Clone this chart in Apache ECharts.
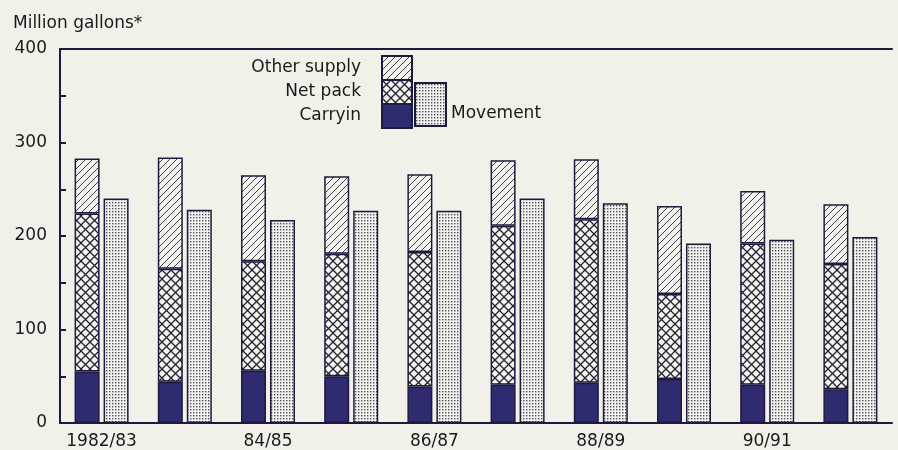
<!DOCTYPE html>
<html>
<head>
<meta charset="utf-8">
<script src="https://cdn.jsdelivr.net/npm/echarts@6/dist/echarts.min.js"></script>
<style>
  html, body { margin: 0; padding: 0; background: #f1f1e9; }
  #chart { width: 898px; height: 450px; }
</style>
</head>
<body>
<div id="chart"></div>
<script>
// data (million gallons)
const years = ['1982/83', '83/84', '84/85', '85/86', '86/87', '87/88', '88/89', '89/90', '90/91', '91/92']
const carryin = [55, 44, 56, 50, 39, 41, 43, 47, 41, 36]
const netPack = [169, 121, 117, 131, 144, 170, 175, 91, 151, 134]
const otherSupply = [59, 119, 92, 83, 83, 70, 64, 94, 56, 64]
const movement = [240, 228, 217, 227, 227, 240, 235, 192, 196, 199]

const ink = '#1c1b3e'
const navy = '#2e2b70'
const paper = '#f4f4ef'

// small canvas tiles used as fill patterns
const makeTile = (size, draw) => {
  const c = document.createElement('canvas')
  c.width = size
  c.height = size
  const ctx = c.getContext('2d')
  ctx.fillStyle = paper
  ctx.fillRect(0, 0, size, size)
  draw(ctx, size)
  return { image: c, repeat: 'repeat' }
}

// diagonal hatch "/"
const hatch = makeTile(7, (ctx, s) => {
  ctx.strokeStyle = '#3a3a4a'
  ctx.lineWidth = 1
  ctx.beginPath()
  ctx.moveTo(-1, s + 1); ctx.lineTo(s + 1, -1)
  ctx.moveTo(-1, 1); ctx.lineTo(1, -1)
  ctx.moveTo(s - 1, s + 1); ctx.lineTo(s + 1, s - 1)
  ctx.stroke()
})

// cross hatch
const cross = makeTile(9, (ctx, s) => {
  ctx.strokeStyle = '#222233'
  ctx.lineWidth = 1.3
  ctx.beginPath()
  ctx.moveTo(0, 0); ctx.lineTo(s, s)
  ctx.moveTo(0, s); ctx.lineTo(s, 0)
  ctx.stroke()
})

// stipple dots
const dots = makeTile(3, (ctx) => {
  ctx.fillStyle = '#4e4e60'
  ctx.fillRect(1, 1, 1.4, 1.4)
})

const font = 'DejaVu Sans'

const barStyle = (fill) => ({
  color: fill,
  borderColor: ink,
  borderWidth: 1.5
})

const myChart = echarts.init(document.getElementById('chart'))

const option = {
  backgroundColor: '#f1f1e9',
  animation: false,
  textStyle: { fontFamily: font, color: '#1a1a1a' },
  title: {
    text: 'Million gallons*',
    left: 8,
    top: 10,
    textStyle: { fontFamily: font, fontSize: 17, fontWeight: 'normal', color: '#1a1a1a' }
  },
  legend: [
    {
      data: ['Other supply', 'Net pack', 'Carryin'],
      orient: 'vertical',
      align: 'right',
      right: 485,
      top: 55,
      padding: 0,
      itemWidth: 30,
      itemHeight: 24,
      itemGap: -2,
      icon: 'rect',
      textStyle: { fontFamily: font, fontSize: 17, lineHeight: 19, color: '#1a1a1a', padding: [0, 16, 0, 0] }
    },
    {
      data: ['Movement'],
      left: 414,
      top: 82,
      padding: 0,
      itemWidth: 31,
      itemHeight: 43,
      icon: 'rect',
      // blank first line pushes the label down next to the lower half of the box
      formatter: (name) => '\n' + name,
      textStyle: { fontFamily: font, fontSize: 17, lineHeight: 18, color: '#1a1a1a' }
    }
  ],
  grid: {
    left: 60,
    right: 6,
    top: 49,
    bottom: 26
  },
  xAxis: [
    {
      type: 'category',
      data: years,
      axisLine: { lineStyle: { color: ink, width: 2 } },
      axisTick: { show: false },
      axisLabel: {
        interval: 1,
        margin: 10,
        fontFamily: font,
        fontSize: 17,
        color: '#1a1a1a'
      }
    },
    {
      type: 'category',
      data: years,
      position: 'top',
      axisLine: { lineStyle: { color: ink, width: 2 } },
      axisTick: { show: false },
      axisLabel: { show: false }
    }
  ],
  yAxis: {
    type: 'value',
    min: 0,
    max: 400,
    interval: 50,
    axisLine: { show: true, lineStyle: { color: ink, width: 2 } },
    axisTick: { show: true, inside: true, length: 6, lineStyle: { color: ink, width: 2 } },
    splitLine: { show: false },
    axisLabel: {
      margin: 13,
      fontFamily: font,
      fontSize: 17,
      color: '#1a1a1a',
      formatter: (v) => (v % 100 === 0 ? String(v) : '')
    }
  },
  series: [
    {
      name: 'Carryin',
      type: 'bar',
      stack: 'supply',
      barWidth: 25,
      barGap: '16%',
      itemStyle: barStyle(navy),
      data: carryin
    },
    {
      name: 'Net pack',
      type: 'bar',
      stack: 'supply',
      barWidth: 25,
      itemStyle: barStyle(cross),
      data: netPack
    },
    {
      name: 'Other supply',
      type: 'bar',
      stack: 'supply',
      barWidth: 25,
      itemStyle: barStyle(hatch),
      data: otherSupply
    },
    {
      name: 'Movement',
      type: 'bar',
      barWidth: 25,
      barGap: '16%',
      itemStyle: barStyle(dots),
      data: movement
    }
  ]
}

myChart.setOption(option)
</script>
</body>
</html>
